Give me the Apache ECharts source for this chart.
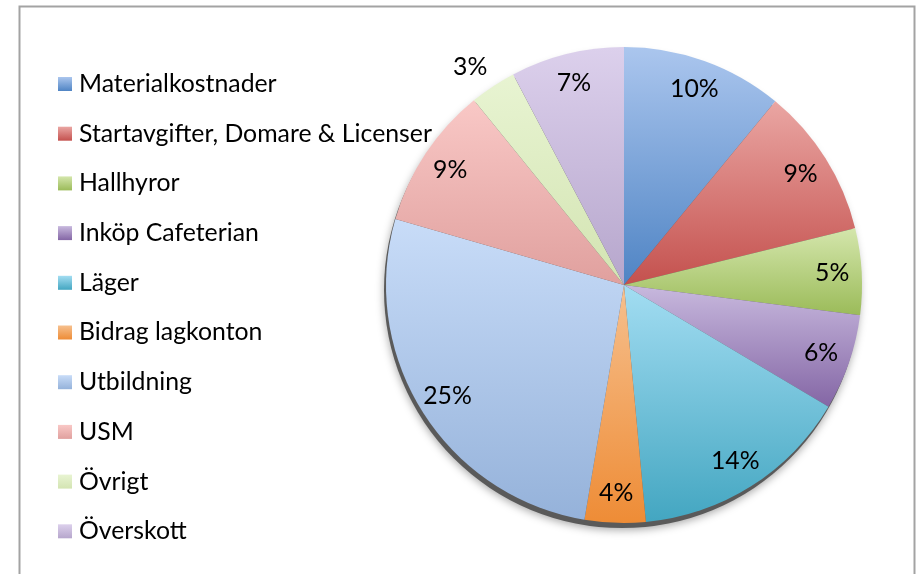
<!DOCTYPE html>
<html lang="sv">
<head>
<meta charset="UTF-8">
<title>Kostnader</title>
<script src="https://cdn.jsdelivr.net/npm/echarts@6/dist/echarts.min.js"></script>
<style>
    html,body{margin:0;padding:0;background:#fff;}
    #chart{width:916px;height:574px;}
</style>
</head>
<body>
<div id="chart"></div>
<script>
// kategorier och värden (procent)
var categories = ['Materialkostnader', 'Startavgifter, Domare & Licenser', 'Hallhyror', 'Inköp Cafeterian',
    'Läger', 'Bidrag lagkonton', 'Utbildning', 'USM', 'Övrigt', 'Överskott'];
var values = [10.1, 9.4, 5.4, 6.0, 13.8, 3.8, 24.7, 8.9, 2.9, 7.1];
// ljus topp / mörk botten per sektor
var lightColors = ['#abc6ee', '#eaa6a3', '#d4e6ac', '#c8b9de', '#a3ddf2', '#f6c08e', '#c8dcf8', '#f9c8c6', '#e8f4d2', '#dcd0ec'];
var darkColors = ['#4f84c4', '#c4514e', '#9bbb59', '#8466a5', '#43a6c1', '#ee8c36', '#95b2da', '#e0a09e', '#d3e4b2', '#b6a6cc'];

var FONT = 'Lato';
var cx = 624, cy = 285, R = 238;

window.onload = function () {
    var myChart = echarts.init(document.getElementById('chart'));

    var pieData = categories.map(function (name, i) {
        return {
            name: name,
            value: values[i],
            itemStyle: {
                color: new echarts.graphic.LinearGradient(0, 0, 0, 1, [
                    {offset: 0, color: lightColors[i]},
                    {offset: 1, color: darkColors[i]}
                ])
            }
        };
    });
    var labelData = categories.map(function (name, i) {
        var d = {name: name, value: values[i]};
        if (name === 'Övrigt') {
            d.label = {position: 'outside', offset: [6, -9]};
        }
        return d;
    });

    var option = {
        animation: false,
        graphic: [{
            type: 'rect',
            shape: {x: 19.5, y: 6.5, width: 895, height: 600},
            style: {fill: 'none', stroke: '#a3a3a3', lineWidth: 2},
            z: 0
        }, {
            type: 'circle',
            shape: {cx: cx - 2, cy: cy + 5, r: R},
            style: {fill: '#5a5a5a', shadowBlur: 8, shadowColor: 'rgba(0,0,0,0.35)', shadowOffsetY: 2},
            z: 0
        }],
        legend: {
            orient: 'vertical',
            left: 58,
            top: 70.5,
            padding: 0,
            itemWidth: 14,
            itemHeight: 14,
            itemGap: 22.7,
            icon: 'rect',
            selectedMode: false,
            data: categories,
            textStyle: {
                fontFamily: FONT,
                fontSize: 24.8,
                lineHeight: 24,
                color: '#000',
                padding: [3, 0, 0, 2]
            }
        },
        series: [{
            name: 'Kostnader',
            type: 'pie',
            center: [cx, cy],
            radius: [0, R],
            startAngle: 90,
            clockwise: true,
            label: {show: false},
            labelLine: {show: false},
            emphasis: {disabled: true},
            data: pieData,
            z: 2
        }, {
            name: 'Etiketter',
            type: 'pie',
            center: [cx, cy],
            radius: [173, R],
            startAngle: 90,
            clockwise: true,
            silent: true,
            avoidLabelOverlap: false,
            itemStyle: {color: 'rgba(0,0,0,0)'},
            label: {
                show: true,
                position: 'inside',
                fontFamily: FONT,
                fontSize: 24.8,
                color: '#000',
                formatter: function (p) {
                    return Math.round(p.value) + '%';
                }
            },
            labelLine: {show: false, length: 12, length2: 0},
            emphasis: {disabled: true},
            data: labelData,
            z: 3
        }]
    };

    myChart.setOption(option);
};
</script>
</body>
</html>
